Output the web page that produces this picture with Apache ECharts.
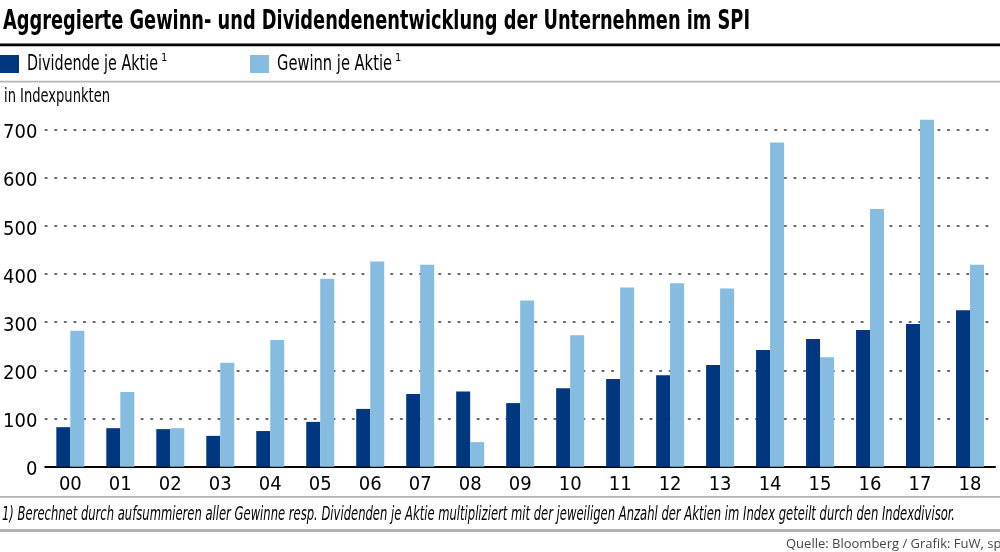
<!DOCTYPE html>
<html>
<head>
<meta charset="utf-8">
<script src="https://cdn.jsdelivr.net/npm/echarts@6/dist/echarts.min.js"></script>
<style>
html,body{margin:0;padding:0;background:#fff;}
#c{width:1000px;height:552px;}
</style>
</head>
<body>
<div id="c"></div>
<script>
var categories = ['00','01','02','03','04','05','06','07','08','09','10','11','12','13','14','15','16','17','18'];
var dividende = [82, 80, 78, 64, 74, 93, 120, 151, 156, 132, 163, 182, 190, 211, 242, 265, 284, 296, 325];
var gewinn = [282, 155, 80, 216, 263, 390, 426, 419, 51, 345, 273, 372, 381, 370, 673, 227, 535, 720, 419];
var yTicks = [0, 100, 200, 300, 400, 500, 600, 700];
var seriesNames = ['Dividende je Aktie', 'Gewinn je Aktie'];
var titleText = 'Aggregierte Gewinn- und Dividendenentwicklung der Unternehmen im SPI';
var unitText = 'in Indexpunkten';
var noteText = '1) Berechnet durch aufsummieren aller Gewinne resp. Dividenden je Aktie multipliziert mit der jeweiligen Anzahl der Aktien im Index geteilt durch den Indexdivisor.';
var sourceText = 'Quelle: Bloomberg / Grafik: FuW, sp';

var FONT = '"DejaVu Sans Condensed", "Liberation Sans Narrow", sans-serif';
var DARK = '#00377f';
var LIGHT = '#85bcdf';

var mctx = document.createElement('canvas').getContext('2d');
function fitScale(text, size, weight, style, target) {
  mctx.font = (style || 'normal') + ' ' + (weight || 'normal') + ' ' + size + 'px "DejaVu Sans Condensed"';
  return target / mctx.measureText(text).width;
}
function scaledText(text, x, y, size, target, opts) {
  opts = opts || {};
  var s = fitScale(text, size, opts.fontWeight, opts.fontStyle, target);
  return {type: 'text', x: x, y: y, scaleX: s, scaleY: 1, silent: true,
    style: {text: text, fontFamily: FONT, fontSize: size, fontWeight: opts.fontWeight || 'normal',
      fontStyle: opts.fontStyle || 'normal', fill: opts.fill || '#000', verticalAlign: 'middle', align: 'left'}};
}
function legendItem(name, x, textW, color) {
  return [
    {type: 'rect', shape: {x: x, y: 55, width: 19, height: 18}, style: {fill: color}, silent: true},
    scaledText(name, x + 27, 64, 22, textW),
    {type: 'text', x: x + 27 + textW + 3, y: 58.5, silent: true,
      style: {text: '1', fontFamily: FONT, fontSize: 11, fill: '#000', verticalAlign: 'middle'}}
  ];
}

var chart = echarts.init(document.getElementById('c'), null, {renderer: 'canvas'});
var graphics = [
  scaledText(titleText, 3, 21.5, 27, 747, {fontWeight: 'bold'}),
  {type: 'rect', shape: {x: 0, y: 43.5, width: 1000, height: 2.8}, style: {fill: '#000'}, silent: true},
  {type: 'rect', shape: {x: 0, y: 80.8, width: 1000, height: 1.8}, style: {fill: '#b3b3b3'}, silent: true},
  scaledText(unitText, 4, 97.5, 19, 106),
  {type: 'rect', shape: {x: 0, y: 496, width: 1000, height: 1.8}, style: {fill: '#b3b3b3'}, silent: true},
  scaledText(noteText, 2, 515.5, 19, 953, {fontStyle: 'italic'}),
  {type: 'rect', shape: {x: 0, y: 529, width: 1000, height: 3}, style: {fill: '#b3b3b3'}, silent: true},
  {type: 'text', x: 786, y: 544, silent: true, style: {text: sourceText,
    fontFamily: '"Open Sans", "DejaVu Sans", sans-serif', fontSize: 13, fill: '#444', verticalAlign: 'middle'}}
].concat(legendItem(seriesNames[0], 0, 131, DARK)).concat(legendItem(seriesNames[1], 250, 115, LIGHT));

chart.setOption({
  animation: false,
  backgroundColor: '#fff',
  textStyle: {fontFamily: FONT},
  grid: {left: 45, right: 5, top: 110.2, bottom: 85.3, containLabel: false},
  xAxis: {
    type: 'category', data: categories,
    axisLine: {show: true, lineStyle: {color: '#000', width: 2}},
    axisTick: {show: false},
    axisLabel: {fontFamily: FONT, fontSize: 20, color: '#000', margin: 8}
  },
  yAxis: {
    type: 'value', min: 0, max: 740, interval: 100,
    axisLine: {show: false}, axisTick: {show: false},
    axisLabel: {fontFamily: FONT, fontSize: 20, color: '#000', margin: 8, showMaxLabel: false,
      formatter: function(v){ return yTicks.indexOf(v) >= 0 ? '{v|' + v + '}' : ''; },
      rich: {v: {fontFamily: FONT, fontSize: 20, color: '#000', padding: [7, 0, 0, 0]}}},
    splitLine: {show: true, showMaxLine: false, lineStyle: {color: '#333', width: 1.6, type: [1.6, 8], cap: 'round'}}
  },
  series: [
    {name: seriesNames[0], type: 'bar', data: dividende, barWidth: 14, barGap: '0%',
     itemStyle: {color: DARK}},
    {name: seriesNames[1], type: 'bar', data: gewinn, barWidth: 14, barGap: '0%',
     itemStyle: {color: LIGHT}}
  ],
  graphic: graphics
});
</script>
</body>
</html>
